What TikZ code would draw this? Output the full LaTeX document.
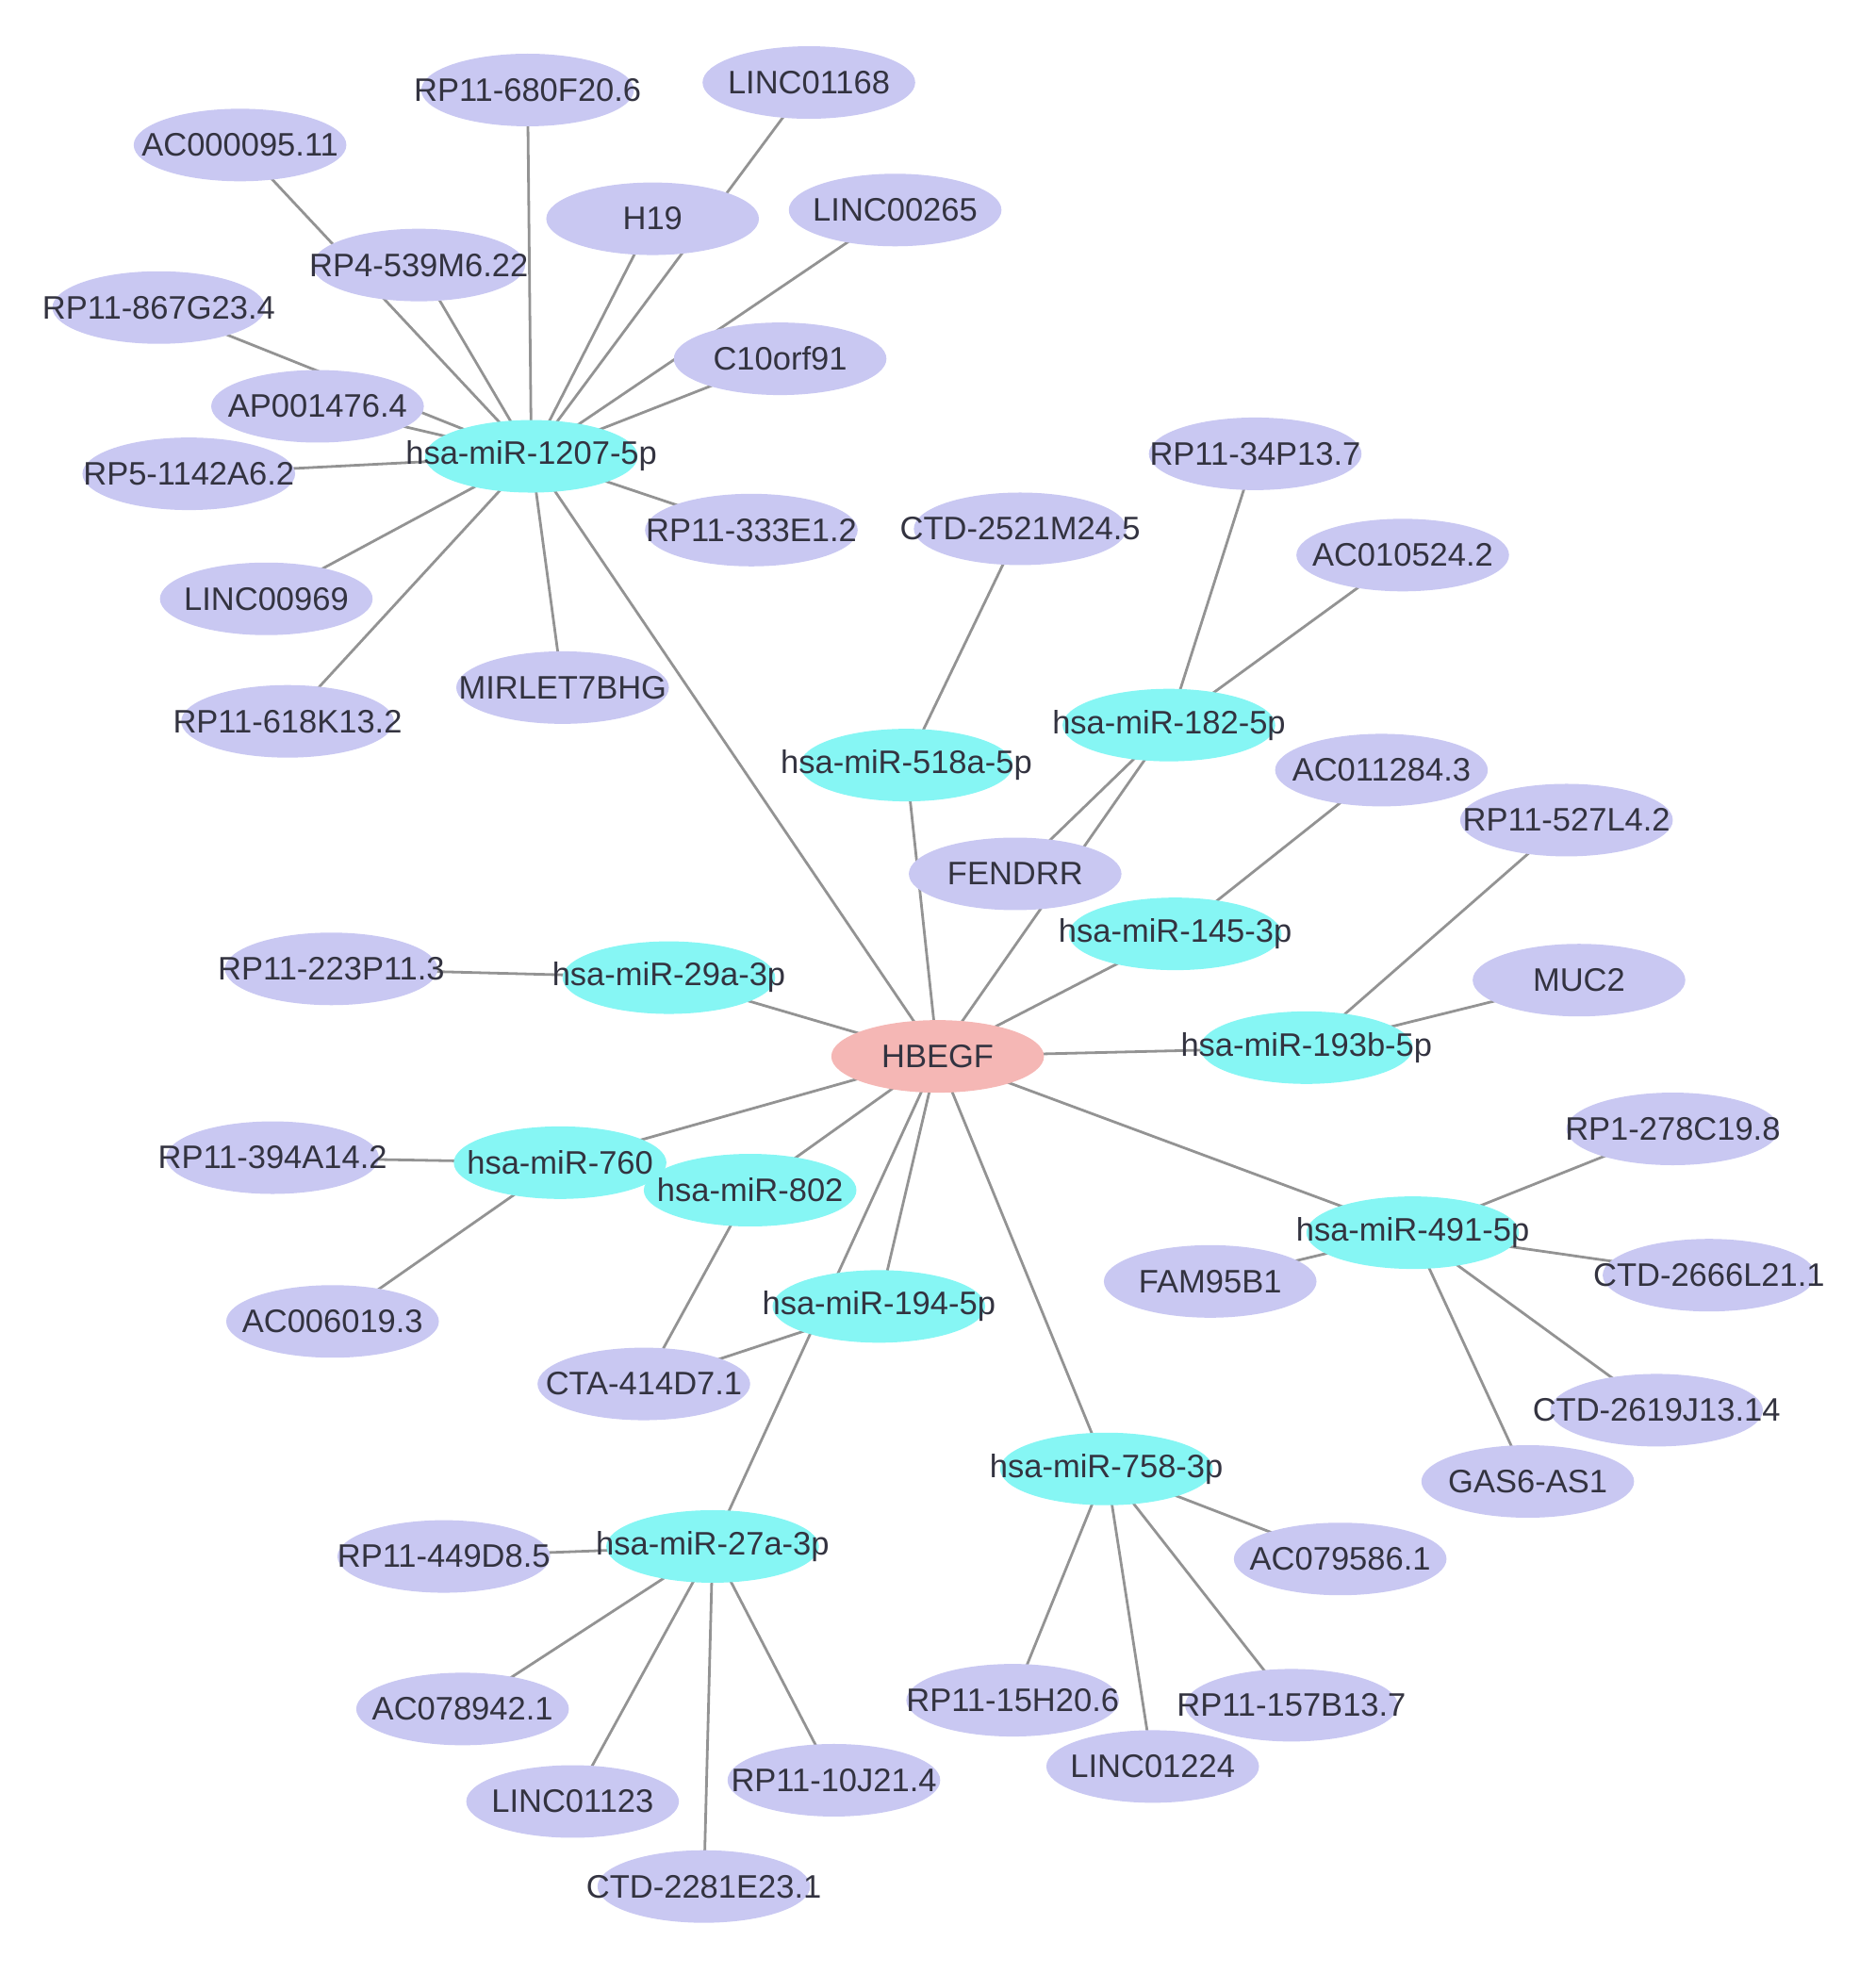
\documentclass[tikz,border=0pt]{standalone}
\usepackage{fontspec}
\setmainfont{Liberation Sans}
\usetikzlibrary{shapes.geometric,backgrounds}
\definecolor{lav}{HTML}{C9C8F2}
\definecolor{cyn}{HTML}{86F6F4}
\definecolor{pnk}{HTML}{F5B7B5}
\definecolor{txt}{HTML}{333340}
\begin{document}
\begin{tikzpicture}[x=0.01cm,y=-0.01cm,
  base/.style={ellipse,inner sep=0pt,minimum width=1.7cm,minimum height=0.58cm,
    label={[text=txt,font=\fontsize{7.4}{8}\selectfont]center:#1}},
  ln/.style={base=#1,fill=lav},
  mi/.style={base=#1,fill=cyn},
  hb/.style={base=#1,fill=pnk},
  edge/.style={draw=gray!85,line width=0.6pt}]
\useasboundingbox (0,0) rectangle (1500,1579);
\node[hb=HBEGF] (HB) at (750,845) {};
\node[mi=hsa-miR-1207-5p] (m1207) at (425,365) {};
\node[mi=hsa-miR-518a-5p] (m518) at (725,612) {};
\node[mi=hsa-miR-182-5p] (m182) at (935,580) {};
\node[mi=hsa-miR-145-3p] (m145) at (940,747) {};
\node[mi=hsa-miR-29a-3p] (m29) at (535,782) {};
\node[mi=hsa-miR-193b-5p] (m193) at (1045,838) {};
\node[mi=hsa-miR-760] (m760) at (448,930) {};
\node[mi=hsa-miR-802] (m802) at (600,952) {};
\node[mi=hsa-miR-194-5p] (m194) at (703,1045) {};
\node[mi=hsa-miR-491-5p] (m491) at (1130,986) {};
\node[mi=hsa-miR-758-3p] (m758) at (885,1175) {};
\node[mi=hsa-miR-27a-3p] (m27) at (570,1237) {};
\node[ln=RP11-680F20.6] (a1) at (422,72) {};
\node[ln=LINC01168] (a2) at (647,66) {};
\node[ln=AC000095.11] (a3) at (192,116) {};
\node[ln=H19] (a4) at (522,175) {};
\node[ln=LINC00265] (a5) at (716,168) {};
\node[ln=RP4-539M6.22] (a6) at (335,212) {};
\node[ln=RP11-867G23.4] (a7) at (127,246) {};
\node[ln=C10orf91] (a8) at (624,287) {};
\node[ln=AP001476.4] (a9) at (254,325) {};
\node[ln=RP5-1142A6.2] (a10) at (151,379) {};
\node[ln=RP11-333E1.2] (a11) at (601,424) {};
\node[ln=LINC00969] (a12) at (213,479) {};
\node[ln=MIRLET7BHG] (a13) at (450,550) {};
\node[ln=RP11-618K13.2] (a14) at (230,577) {};
\node[ln=CTD-2521M24.5] (b1) at (816,423) {};
\node[ln=RP11-34P13.7] (c1) at (1004,363) {};
\node[ln=AC010524.2] (c2) at (1122,444) {};
\node[ln=FENDRR] (c3) at (812,699) {};
\node[ln=AC011284.3] (d1) at (1105,616) {};
\node[ln=RP11-527L4.2] (e1) at (1253,656) {};
\node[ln=MUC2] (e2) at (1263,784) {};
\node[ln=RP11-223P11.3] (f1) at (265,775) {};
\node[ln=RP11-394A14.2] (g1) at (218,926) {};
\node[ln=AC006019.3] (g2) at (266,1057) {};
\node[ln=CTA-414D7.1] (h1) at (515,1107) {};
\node[ln=RP1-278C19.8] (i1) at (1338,903) {};
\node[ln=FAM95B1] (i2) at (968,1025) {};
\node[ln=CTD-2666L21.1] (i3) at (1367,1020) {};
\node[ln=CTD-2619J13.14] (i4) at (1325,1128) {};
\node[ln=GAS6-AS1] (i5) at (1222,1185) {};
\node[ln=AC079586.1] (j1) at (1072,1247) {};
\node[ln=RP11-15H20.6] (j2) at (810,1360) {};
\node[ln=RP11-157B13.7] (j3) at (1033,1364) {};
\node[ln=LINC01224] (j4) at (922,1413) {};
\node[ln=RP11-449D8.5] (k1) at (355,1245) {};
\node[ln=AC078942.1] (k2) at (370,1367) {};
\node[ln=LINC01123] (k3) at (458,1441) {};
\node[ln=RP11-10J21.4] (k4) at (667,1424) {};
\node[ln=CTD-2281E23.1] (k5) at (563,1509) {};
\begin{scope}[on background layer]
\foreach \t in {a1,a2,a3,a4,a5,a6,a7,a8,a9,a10,a11,a12,a13,a14,HB}
  \draw[edge] (m1207.center) -- (\t.center);
\foreach \t in {b1,HB} \draw[edge] (m518.center) -- (\t.center);
\foreach \t in {c1,c2,c3,HB} \draw[edge] (m182.center) -- (\t.center);
\foreach \t in {d1,HB} \draw[edge] (m145.center) -- (\t.center);
\foreach \t in {e1,e2,HB} \draw[edge] (m193.center) -- (\t.center);
\foreach \t in {f1,HB} \draw[edge] (m29.center) -- (\t.center);
\foreach \t in {g1,g2,HB} \draw[edge] (m760.center) -- (\t.center);
\foreach \t in {h1,HB} \draw[edge] (m802.center) -- (\t.center);
\foreach \t in {h1,HB} \draw[edge] (m194.center) -- (\t.center);
\foreach \t in {i1,i2,i3,i4,i5,HB} \draw[edge] (m491.center) -- (\t.center);
\foreach \t in {j1,j2,j3,j4,HB} \draw[edge] (m758.center) -- (\t.center);
\foreach \t in {k1,k2,k3,k4,k5,HB} \draw[edge] (m27.center) -- (\t.center);
\end{scope}
\end{tikzpicture}
\end{document}
